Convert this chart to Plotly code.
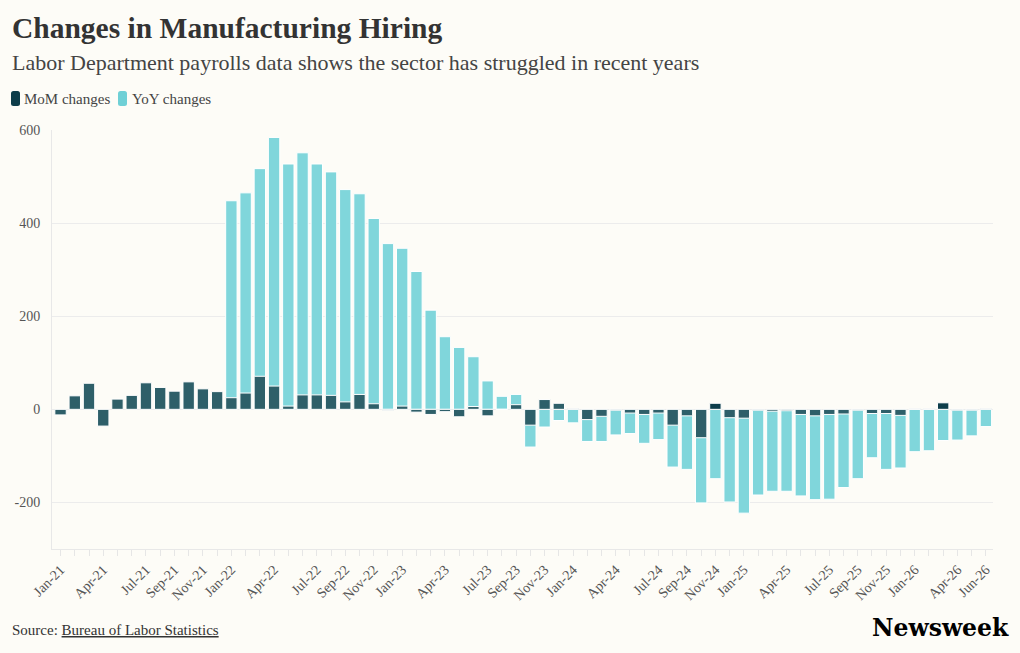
import plotly.graph_objects as go

months = [f"{m}-{y}" for y in ["21", "22", "23", "24", "25", "26"]
          for m in ["Jan", "Feb", "Mar", "Apr", "May", "Jun", "Jul", "Aug", "Sep", "Oct", "Nov", "Dec"]][:66]

mom = [-12, 29, 56, -36, 22, 30, 57, 47, 39, 59, 44, 38,
       25, 35, 71, 50, 7, 31, 31, 30, 16, 32, 12, -2,
       7, -6, -11, -5, -16, 6, -14, 0, 10, -34, 21, 13,
       2, -22, -15, -2, -8, -11, -8, -34, -14, -61, 13, -18,
       -19, -2, -4, -3, -11, -14, -11, -10, -2, -9, -9, -13,
       1, 1, 14, -2, -2, 2]

yoy = [None] * 12 + [448, 465, 517, 584, 527, 551, 527, 510, 472, 463, 410, 356,
       346, 296, 213, 156, 133, 113, 61, 28, 32, -81, -38, -24,
       -29, -69, -69, -55, -52, -73, -65, -124, -129, -201, -149, -199,
       -223, -184, -176, -176, -186, -194, -193, -168, -149, -104, -129, -126,
       -91, -89, -67, -66, -57, -37]

tick_labels = ["Jan-21", "Apr-21", "Jul-21", "Sep-21", "Nov-21", "Jan-22", "Apr-22", "Jul-22",
               "Sep-22", "Nov-22", "Jan-23", "Apr-23", "Jul-23", "Sep-23", "Nov-23", "Jan-24",
               "Apr-24", "Jul-24", "Sep-24", "Nov-24", "Jan-25", "Apr-25", "Jul-25", "Sep-25",
               "Nov-25", "Jan-26", "Apr-26", "Jun-26"]
emphasis = ["Nov-24", "Mar-26"]

MOM_C = "#2e5f69"
MOM_DARK = "#0d3d4a"
YOY_C = "#80d6db"
BG = "#fdfcf7"
FONT = "Liberation Serif"

mom_colors = [MOM_DARK if m in emphasis else MOM_C for m in months]

fig = go.Figure()
fig.add_trace(go.Bar(x=months, y=yoy, name="YoY changes", marker=dict(color=YOY_C, line=dict(color="white", width=1))))
fig.add_trace(go.Bar(x=months, y=mom, name="MoM changes", marker=dict(color=mom_colors, line=dict(color="white", width=1))))

L, R, T, B = 52, 27, 130, 104
W, H = 1020, 653
pw, ph = W - L - R, H - T - B


def px(x):
    return (x - L) / pw


def py(y):
    return (H - B - y) / ph


annotations = [
    dict(text="<b>Changes in Manufacturing Hiring</b>", x=px(10), y=py(28), xanchor="left", yanchor="middle",
         font=dict(family=FONT, size=29.5, color="#333333")),
    dict(text="Labor Department payrolls data shows the sector has struggled in recent years", x=px(10), y=py(63),
         xanchor="left", yanchor="middle", font=dict(family=FONT, size=22, color="#444444")),
    dict(text="MoM changes", x=px(22), y=py(99), xanchor="left", yanchor="middle",
         font=dict(family=FONT, size=15, color="#444444")),
    dict(text="YoY changes", x=px(130), y=py(99), xanchor="left", yanchor="middle",
         font=dict(family=FONT, size=15, color="#444444")),
    dict(text="Source: <u>Bureau of Labor Statistics</u>", x=px(10), y=py(630), xanchor="left", yanchor="middle",
         font=dict(family=FONT, size=15, color="#333333")),
    dict(text="<b>Newsweek</b>", x=px(1011), y=py(628), xanchor="right", yanchor="middle",
         font=dict(family="DejaVu Serif", size=23.5, color="#000000")),
]
for a in annotations:
    a.update(xref="paper", yref="paper", showarrow=False)


def rrect(x0, y0, x1, y1, r, color):
    X0, X1 = px(x0), px(x1)
    Y0, Y1 = py(y0), py(y1)
    rx, ry = r / pw, r / ph
    path = (f"M {X0+rx},{Y0} L {X1-rx},{Y0} Q {X1},{Y0} {X1},{Y0-ry} L {X1},{Y1+ry} Q {X1},{Y1} {X1-rx},{Y1} "
            f"L {X0+rx},{Y1} Q {X0},{Y1} {X0},{Y1+ry} L {X0},{Y0-ry} Q {X0},{Y0} {X0+rx},{Y0} Z")
    return dict(type="path", path=path, xref="paper", yref="paper", fillcolor=color, line=dict(width=0))


shapes = [rrect(11, 91, 20, 106, 2.5, MOM_DARK), rrect(118, 91, 127, 106, 2.5, "#6fd0d6")]

fig.update_layout(
    width=W, height=H,
    margin=dict(l=L, r=R, t=T, b=B),
    paper_bgcolor=BG, plot_bgcolor=BG,
    barmode="overlay", bargap=0.2,
    showlegend=False,
    annotations=annotations,
    shapes=shapes,
    xaxis=dict(
        type="category", categoryorder="array", categoryarray=months,
        tickmode="array", tickvals=months,
        ticktext=[m if m in tick_labels else "" for m in months],
        tickangle=-45, ticks="outside", ticklen=6, tickcolor="#e6e6e6", tickwidth=1,
        showline=True, linecolor="#e8e8e8", linewidth=1,
        showgrid=False, range=[-0.6, 65.5],
        tickfont=dict(family=FONT, size=14, color="#555555"),
    ),
    yaxis=dict(
        range=[-300, 600], tickvals=[-200, 0, 200, 400, 600],
        ticktext=["-200", "0", "200", "400", "600"],
        showgrid=True, gridcolor="#ececec", gridwidth=1,
        zeroline=False, showline=True, linecolor="#e8e8e8", linewidth=1,
        ticks="", ticklabelstandoff=8,
        tickfont=dict(family=FONT, size=14, color="#555555"),
    ),
)

fig.write_html("out.html")
